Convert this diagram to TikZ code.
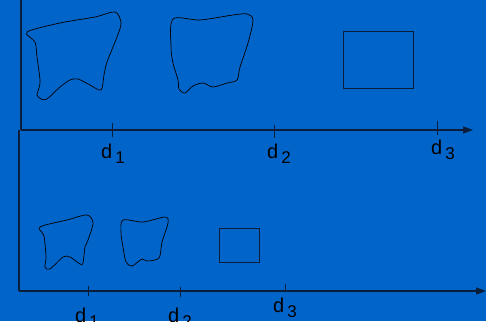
\documentclass[tikz,border=0pt]{standalone}
\usepackage{fontspec}
\setmainfont{Liberation Sans}
\usetikzlibrary{arrows.meta}
\definecolor{slideblue}{RGB}{0,100,200}
\definecolor{inkdark}{RGB}{10,30,60}
\newcommand{\dlab}[1]{d\hspace{3pt}\raisebox{-5pt}{\fontsize{17}{17}\selectfont #1}}
\tikzset{
  axis/.style={-{Triangle[length=10pt,width=7pt]}, line width=1.1pt, draw=inkdark},
  frame/.style={line width=1.1pt, draw=inkdark},
  tick/.style={line width=0.8pt, draw=inkdark},
  blob/.style={line width=0.7pt, draw=black, tension=0.5},
  sqbox/.style={draw=inkdark, line width=0.8pt, inner sep=0pt},
  dlabel/.style={anchor=base west, inner sep=0pt, font=\fontsize{20}{20}\selectfont, text=black}
}

\begin{document}
\begin{tikzpicture}[x=1pt,y=-1pt]
  \fill[slideblue] (0,0) rectangle (486,321);
  \useasboundingbox (0,0) rectangle (486,321);
  \clip (0,0) rectangle (486,321);

  % upper panel
  \coordinate (top1) at (21,0);
  \coordinate (org1) at (21,130);
  \coordinate (end1) at (473,130);
  \draw[frame] (top1) -- (org1);
  \draw[axis] (org1) -- (end1);
  \draw[tick] (112,123) -- (112,137);
  \draw[tick] (274,125) -- (274,138);
  \draw[tick] (437,121) -- (437,135);
  \node[dlabel] (ua) at (101,158) {\dlab{1}};
  \node[dlabel] (ub) at (267,158) {\dlab{2}};
  \node[dlabel] (uc) at (431,154) {\dlab{3}};

  \draw[blob] plot[smooth cycle] coordinates {(27,32) (60,23) (95,17) (115,12)
    (121,23) (117,37) (107,62) (104,75) (101,90) (90,85) (78,79) (70,80)
    (60,87) (47,99) (41,99) (37,95) (39,88) (40,80) (37,57) (35,42)};
  \draw[blob] plot[smooth cycle] coordinates {(173,19) (200,20) (233,15)
    (247,14) (253,20) (248,43) (240,67) (237,80) (227,83) (213,87) (203,83)
    (193,86) (185,93) (179,89) (178,80) (173,63) (171,47)};
  \node[sqbox, minimum width=70pt, minimum height=57pt] (usq) at (378,60) {};

  % lower panel
  \coordinate (top2) at (19,130);
  \coordinate (org2) at (19,291);
  \coordinate (end2) at (486,291);
  \draw[frame] (top2) -- (org2);
  \draw[axis] (org2) -- (end2);
  \draw[tick] (88,286) -- (88,296);
  \draw[tick] (180,287) -- (180,297);
  \draw[tick] (285,284) -- (285,292);
  \node[dlabel] (la) at (75,322) {\dlab{1}};
  \node[dlabel] (lb) at (168,322) {\dlab{2}};
  \node[dlabel] (lc) at (273,312) {\dlab{3}};

  \draw[blob] plot[smooth cycle] coordinates {(40,227) (67,220) (87,215)
    (93,223) (88,240) (85,247) (83,263) (80,264) (70,257) (63,257) (50,269)
    (45,267) (46,257) (44,236)};
  \draw[blob] plot[smooth cycle] coordinates {(123,220) (143,222) (165,217)
    (168,223) (162,242) (159,258) (147,261) (142,259) (132,266) (126,262)
    (123,247) (121,233)};
  \node[sqbox, minimum width=40pt, minimum height=34pt] (lsq) at (239,245) {};
\end{tikzpicture}
\end{document}
